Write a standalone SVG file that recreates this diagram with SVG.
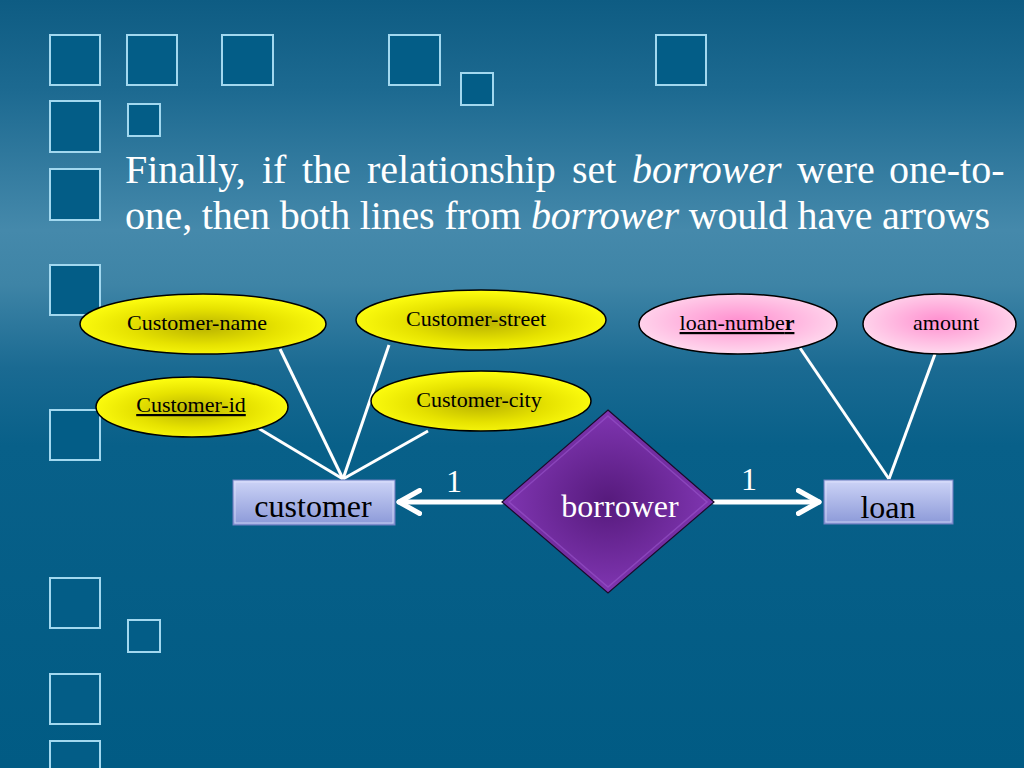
<svg xmlns="http://www.w3.org/2000/svg" width="1024" height="768" viewBox="0 0 1024 768">
<defs>
<linearGradient id="bg" x1="0" y1="0" x2="0" y2="1">
<stop offset="0" stop-color="#0e5c83"/>
<stop offset="0.12" stop-color="#1d6a91"/>
<stop offset="0.30" stop-color="#4589ab"/>
<stop offset="0.37" stop-color="#3e84a6"/>
<stop offset="0.48" stop-color="#1a6a92"/>
<stop offset="0.58" stop-color="#086089"/>
<stop offset="1" stop-color="#015b84"/>
</linearGradient>
<radialGradient id="yel" cx="0.5" cy="0.55" r="0.55">
<stop offset="0" stop-color="#b9b200"/>
<stop offset="0.55" stop-color="#e6e200"/>
<stop offset="1" stop-color="#ffff10"/>
</radialGradient>
<radialGradient id="pink" cx="0.5" cy="0.45" r="0.55">
<stop offset="0" stop-color="#ff8fcf"/>
<stop offset="1" stop-color="#ffd9ee"/>
</radialGradient>
<radialGradient id="purp" cx="0.5" cy="0.5" r="0.5">
<stop offset="0" stop-color="#561a7c"/>
<stop offset="1" stop-color="#8036b2"/>
</radialGradient>
<linearGradient id="box" x1="0" y1="0" x2="0" y2="1">
<stop offset="0" stop-color="#cdd4f7"/>
<stop offset="1" stop-color="#8b99d8"/>
</linearGradient>
<marker id="chev" viewBox="0 0 12 12" refX="10" refY="6" markerWidth="5.5" markerHeight="5.5" markerUnits="strokeWidth" orient="auto-start-reverse">
<path d="M1,1 L10,6 L1,11" fill="none" stroke="#fff" stroke-width="2.2" stroke-linecap="round" stroke-linejoin="round"/>
</marker>
</defs>
<style>
.sq{fill:#035d87;stroke:#a2d8ef;stroke-width:2}
.attr{stroke:#000;stroke-width:1.5}
.lbl{font-family:"Liberation Serif","Times New Roman",serif;font-size:22px;fill:#000;text-anchor:middle}
.big{font-family:"Liberation Serif","Times New Roman",serif;font-size:32px;text-anchor:middle}
.title{font-family:"Liberation Serif","Times New Roman",serif;font-size:40px;fill:#fff}
.ln{stroke:#fff;stroke-width:3;fill:none}
.arr{stroke:#fff;stroke-width:5;fill:none;stroke-linecap:round}
</style>
<rect x="0" y="0" width="1024" height="768" fill="url(#bg)"/>
<g id="decor">
<rect class="sq" x="50" y="35" width="50" height="50"/>
<rect class="sq" x="127" y="35" width="50" height="50"/>
<rect class="sq" x="222" y="35" width="51" height="50"/>
<rect class="sq" x="389" y="35" width="51" height="50"/>
<rect class="sq" x="461" y="73" width="32" height="32"/>
<rect class="sq" x="656" y="35" width="50" height="50"/>
<rect class="sq" x="50" y="101" width="50" height="51"/>
<rect class="sq" x="128" y="104" width="32" height="32"/>
<rect class="sq" x="50" y="169" width="50" height="51"/>
<rect class="sq" x="50" y="265" width="50" height="50"/>
<rect class="sq" x="50" y="410" width="50" height="50"/>
<rect class="sq" x="50" y="578" width="50" height="50"/>
<rect class="sq" x="128" y="620" width="32" height="32"/>
<rect class="sq" x="50" y="674" width="50" height="50"/>
<rect class="sq" x="50" y="741" width="50" height="50"/>
</g>
<g id="title" class="title">
<text y="183"><tspan x="125">Finally,</tspan><tspan x="262">if</tspan><tspan x="302">the</tspan><tspan x="367">relationship</tspan><tspan x="572">set</tspan><tspan x="632" font-style="italic">borrower</tspan><tspan x="797">were</tspan><tspan x="889">one-to-</tspan></text>
<text y="229" x="125" textLength="865" lengthAdjust="spacing">one, then both lines from <tspan font-style="italic">borrower</tspan> would have arrows</text>
</g>
<g id="connectors">
<line class="ln" x1="280" y1="349" x2="343" y2="479"/>
<line class="ln" x1="389" y1="345" x2="343" y2="479"/>
<line class="ln" x1="258" y1="428" x2="343" y2="479"/>
<line class="ln" x1="428" y1="431" x2="343" y2="479"/>
<line class="ln" x1="800" y1="348" x2="889" y2="479"/>
<line class="ln" x1="935" y1="354" x2="889" y2="479"/>
<line class="arr" x1="502" y1="502" x2="399" y2="502" marker-end="url(#chev)"/>
<line class="arr" x1="714" y1="502" x2="819" y2="502" marker-end="url(#chev)"/>
<text class="big" x="454" y="492" fill="#fff" font-size="30">1</text>
<text class="big" x="749" y="490" fill="#fff" font-size="30">1</text>
</g>
<g id="customer-name">
<ellipse class="attr" cx="203" cy="324" rx="123" ry="30" fill="url(#yel)"/>
<text class="lbl" x="197" y="330">Customer-name</text>
</g>
<g id="customer-street">
<ellipse class="attr" cx="481" cy="320" rx="125" ry="30" fill="url(#yel)"/>
<text class="lbl" x="476" y="326">Customer-street</text>
</g>
<g id="customer-id">
<ellipse class="attr" cx="192" cy="407" rx="96" ry="30" fill="url(#yel)"/>
<text class="lbl" x="191" y="412" text-decoration="underline">Customer-id</text>
</g>
<g id="customer-city">
<ellipse class="attr" cx="481" cy="401" rx="110" ry="30" fill="url(#yel)"/>
<text class="lbl" x="479" y="407">Customer-city</text>
</g>
<g id="loan-number">
<ellipse class="attr" cx="738" cy="324" rx="99" ry="30" fill="url(#pink)"/>
<text class="lbl" x="737" y="330" text-decoration="underline">loan-numbe<tspan font-weight="bold">r</tspan></text>
</g>
<g id="amount">
<ellipse class="attr" cx="939.5" cy="324" rx="76.5" ry="30" fill="url(#pink)"/>
<text class="lbl" x="946" y="330">amount</text>
</g>
<g id="customer">
<rect x="233" y="480" width="162" height="45" fill="url(#box)" stroke="#6f7fc0" stroke-width="1"/>
<rect x="235" y="482" width="158" height="41" fill="none" stroke="#e2e7ff" stroke-width="1" opacity="0.7"/>
<text class="big" x="313" y="517" fill="#000">customer</text>
</g>
<g id="borrower">
<polygon points="608,410 714,502 608,593 502,502" fill="url(#purp)" stroke="#1a0a2a" stroke-width="1.2"/>
<polygon points="608,416 707,502 608,587 509,502" fill="none" stroke="#9a55cc" stroke-width="1.5" opacity="0.6"/>
<text class="big" x="620" y="517" fill="#fff">borrower</text>
</g>
<g id="loan">
<rect x="824" y="480" width="129" height="44" fill="url(#box)" stroke="#6f7fc0" stroke-width="1"/>
<rect x="826" y="482" width="125" height="40" fill="none" stroke="#e2e7ff" stroke-width="1" opacity="0.7"/>
<text class="big" x="888" y="518" fill="#000">loan</text>
</g>
</svg>
